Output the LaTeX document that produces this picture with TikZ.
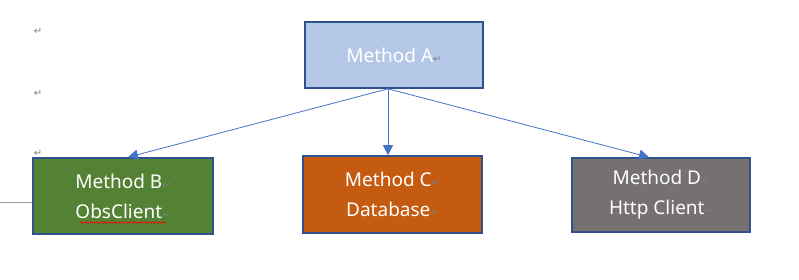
\documentclass[tikz,border=0pt]{standalone}
\usepackage{fontspec}
\setmainfont{Noto Sans}
\newfontfamily\markfont{DejaVu Sans}
\usepackage{xcolor}
\usetikzlibrary{arrows.meta, positioning, decorations.pathmorphing}
\definecolor{methodblue}{RGB}{180,199,231}
\definecolor{methodgreen}{RGB}{84,130,53}
\definecolor{methodorange}{RGB}{197,90,17}
\definecolor{methodgray}{RGB}{118,113,113}
\definecolor{edgeblue}{RGB}{47,82,143}
\definecolor{arrowblue}{RGB}{68,114,196}
\definecolor{markgray}{RGB}{128,128,128}
\newcommand{\pmark}{{\markfont\fontsize{10}{10}\selectfont\textcolor{markgray}{↵}}}

\begin{document}
\begin{tikzpicture}[
    x=1pt, y=-1pt,
    method/.style={rectangle, draw=edgeblue, line width=1.6pt, minimum width=178pt, minimum height=70pt, align=center, text=white, font=\fontsize{19}{30}\selectfont},
    arrow/.style={-{Triangle[length=10pt, width=10pt]}, arrowblue, line width=0.8pt},
    parmark/.style={inner sep=0pt}
]
\useasboundingbox (0,0) rectangle (799,279);

% Caller
\node[method, fill=methodblue, minimum height=66pt] (methodA) at (394,55) {Method A\pmark};
\coordinate (apex) at ([xshift=-6pt]methodA.south);

% Callees
\node[method, fill=methodgreen, minimum width=180pt, minimum height=76pt] (methodB) at (123,196) {Method B\pmark\\ObsClient\pmark};
\node[method, fill=methodorange, minimum width=179pt, minimum height=77pt] (methodC) at (392.5,194.5) {Method C\pmark\\Database\pmark};
\node[method, fill=methodgray, minimum height=74pt] (methodD) at (661,195) {Method D\pmark\\Http Client\pmark};

% Calls
\draw[arrow] (apex) -- ([xshift=5pt]methodB.north);
\draw[arrow] (apex) -- (apex |- methodC.north);
\draw[arrow] (apex) -- ([xshift=-12pt]methodD.north);

% Paragraph marks on the left
\node[parmark] (par1) at (38,31) {\pmark};
\node[parmark] (par2) at (38,93) {\pmark};
\node[parmark] (par3) at (38,153) {\pmark};

% Margin line and spell-check squiggle
\coordinate (margin) at (0,202);
\draw[markgray!80, line width=0.6pt] (margin) -- (methodB.west |- margin);
\draw[red, line width=0.6pt, decorate, decoration={snake, amplitude=0.8pt, segment length=3pt}] (80,222.5) -- (166,222.5);

\end{tikzpicture}
\end{document}
